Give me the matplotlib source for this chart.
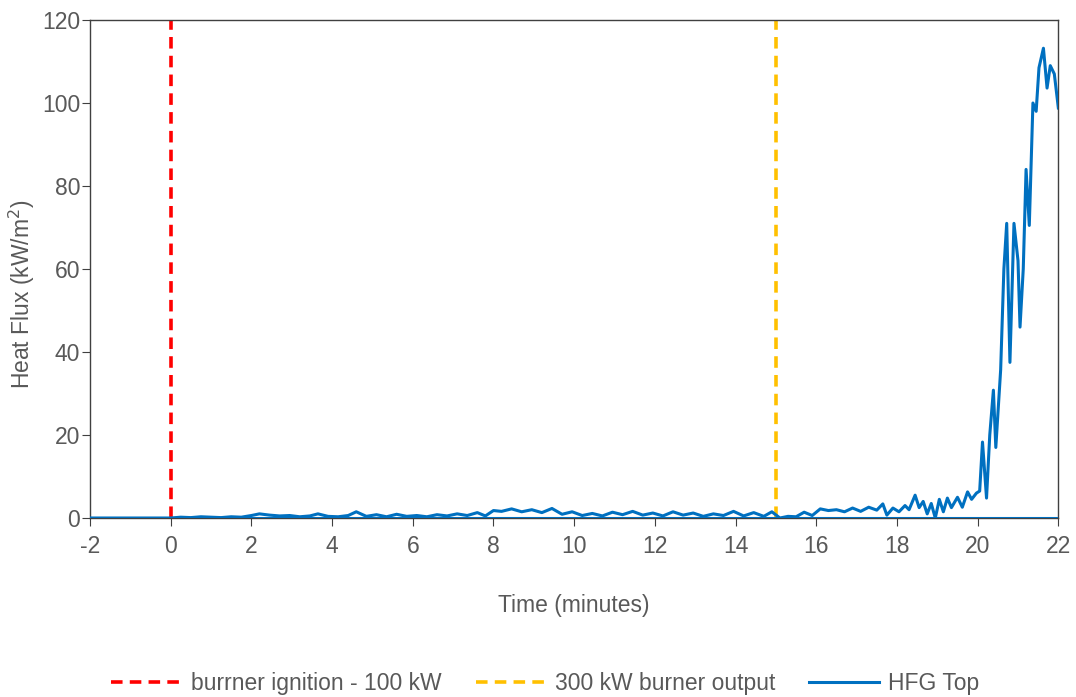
import matplotlib.pyplot as plt

plt.rcParams['font.family'] = ['Liberation Sans', 'DejaVu Sans']
plt.rcParams['axes.unicode_minus'] = False

# data
time_min = [-2.0, 0.0, 0.25, 0.5, 0.75, 1.0, 1.25, 1.5, 1.75, 2.0, 2.2, 2.45, 2.7, 2.95,
            3.2, 3.45, 3.65, 3.9, 4.15, 4.4, 4.6, 4.85, 5.1, 5.35, 5.6, 5.85, 6.1,
            6.35, 6.6, 6.85, 7.1, 7.35, 7.6, 7.8, 8.0, 8.2, 8.45, 8.7, 8.95, 9.2,
            9.45, 9.7, 9.95, 10.2, 10.45, 10.7, 10.95, 11.2, 11.45, 11.7, 11.95,
            12.2, 12.45, 12.7, 12.95, 13.2, 13.45, 13.7, 13.95, 14.2, 14.45, 14.7,
            14.9, 15.1, 15.3, 15.5, 15.7, 15.9, 16.1, 16.3, 16.5, 16.7, 16.9,
            17.1, 17.3, 17.5, 17.65, 17.75, 17.9, 18.05, 18.2, 18.3, 18.45, 18.55,
            18.65, 18.75, 18.85, 18.95, 19.05, 19.15, 19.25, 19.35, 19.5, 19.62,
            19.75, 19.85, 19.97, 20.05, 20.12, 20.22, 20.3, 20.39, 20.45, 20.57,
            20.65, 20.72, 20.8, 20.9, 21.0, 21.05, 21.13, 21.2, 21.28, 21.37,
            21.45, 21.52, 21.63, 21.72, 21.8, 21.9, 22.0]
hfg_top = [0.0, 0.0, 0.2, 0.1, 0.3, 0.2, 0.1, 0.3, 0.2, 0.6, 1.0, 0.7, 0.5, 0.6,
           0.3, 0.5, 1.0, 0.4, 0.3, 0.6, 1.5, 0.4, 0.8, 0.3, 0.9, 0.4, 0.6,
           0.3, 0.8, 0.5, 1.0, 0.6, 1.3, 0.5, 1.8, 1.6, 2.2, 1.5, 2.0, 1.3,
           2.3, 0.9, 1.5, 0.6, 1.1, 0.5, 1.4, 0.8, 1.6, 0.7, 1.2,
           0.5, 1.5, 0.7, 1.2, 0.4, 1.0, 0.6, 1.6, 0.5, 1.3, 0.4,
           1.5, 0.0, 0.4, 0.3, 1.4, 0.6, 2.2, 1.8, 2.0, 1.5, 2.4,
           1.6, 2.6, 1.9, 3.4, 0.7, 2.4, 1.5, 3.0, 2.0, 5.5, 2.5,
           4.0, 1.0, 3.5, 0.0, 4.5, 1.5, 4.8, 2.5, 5.0, 2.6,
           6.3, 4.5, 6.0, 6.5, 18.3, 4.8, 20.0, 30.8, 17.0, 35.7,
           60.0, 71.0, 37.5, 71.0, 62.0, 46.0, 60.0, 84.0, 70.5, 100.0,
           98.0, 108.5, 113.2, 103.6, 109.0, 107.0, 98.8]
ignition_time = 0
burner_300kw_time = 15

grey = '#595959'
fs = 16.5
fig = plt.figure(figsize=(10.76, 6.97), dpi=100)
ax = fig.add_axes([0.0836, 0.2568, 0.9, 0.7145])

ax.axvline(ignition_time, color='#ff0000', lw=2.6, ls=(0, (3.2, 2)),
           label='burrner ignition - 100 kW')
ax.axvline(burner_300kw_time, color='#ffc000', lw=2.6, ls=(0, (3.2, 2)),
           label='300 kW burner output')
ax.axhline(0, color='#0070c0', lw=2.2, zorder=3)
ax.plot(time_min, hfg_top, color='#0070c0', lw=2.2, label='HFG Top', zorder=4)

ax.set_xlim(-2, 22)
ax.set_ylim(0, 120)
ax.set_xticks(range(-2, 23, 2))
ax.set_yticks(range(0, 121, 20))
ax.tick_params(labelsize=fs, colors=grey, length=6, direction='out')
ax.tick_params(axis='x', pad=6, color='#404040')
ax.tick_params(axis='y', pad=1, color='#404040')
for s in ax.spines.values():
    s.set_color('#404040')
    s.set_linewidth(1.0)

ax.set_xlabel('Time (minutes)', fontsize=fs, color=grey, labelpad=26)
ax.set_ylabel('Heat Flux (kW/m$^2$)', fontsize=fs, color=grey, va='center')
ax.yaxis.set_label_coords(-0.07, 0.45)

fig.legend(loc='center', bbox_to_anchor=(0.507, 0.02), ncol=3, frameon=False,
           fontsize=fs, labelcolor=grey, handlelength=3.05, columnspacing=1.5,
           handletextpad=0.4)

fig.savefig('out.png', dpi=100)
